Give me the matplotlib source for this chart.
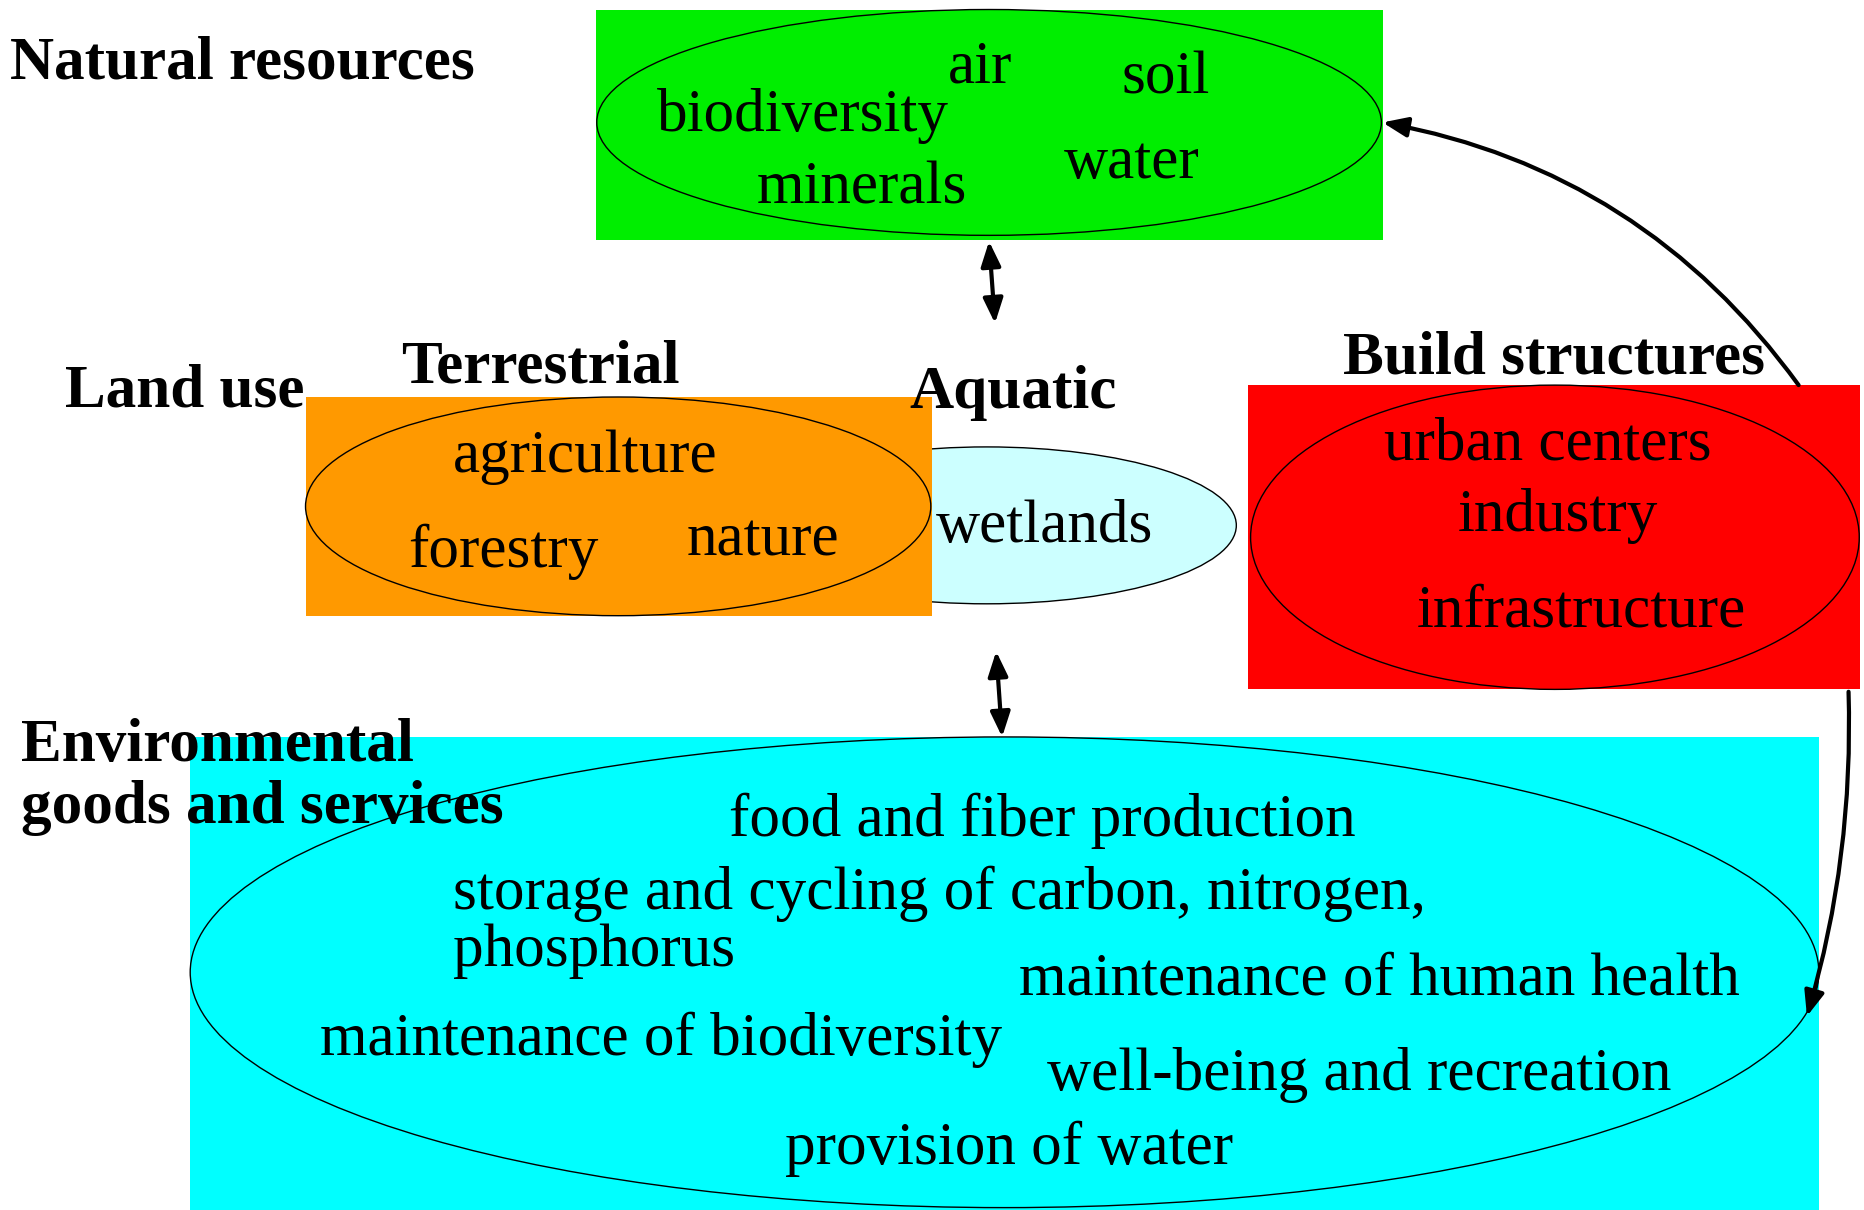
import matplotlib
matplotlib.use("Agg")
import matplotlib.pyplot as plt
from matplotlib.patches import Rectangle, Ellipse, FancyArrowPatch

# ---- content ----
group_titles = ["Natural resources", "Land use", "Terrestrial", "Aquatic",
                "Build structures", "Environmental", "goods and services"]
natural_items = ["air", "soil", "biodiversity", "minerals", "water"]
terrestrial_items = ["agriculture", "forestry", "nature"]
aquatic_items = ["wetlands"]
built_items = ["urban centers", "industry", "infrastructure"]
service_items = ["food and fiber production",
                 "storage and cycling of carbon, nitrogen,",
                 "phosphorus",
                 "maintenance of human health",
                 "maintenance of biodiversity",
                 "well-being and recreation",
                 "provision of water"]

# ---- layout (reference pixel coordinates, 1568 x 1018 canvas) ----
W, H = 1568, 1018
title_pos = [(8, 66), (55, 342), (337, 322), (765, 343), (1130, 314), (18, 640), (18, 692)]
natural_pos = [(797, 69), (943, 79), (553, 110), (637, 171), (895, 150)]
terrestrial_pos = [(381, 397), (343, 477), (578, 467)]
aquatic_pos = [(787, 456)]
built_pos = [(1164, 387), (1226, 447), (1192, 527)]
service_pos = [(613, 703), (381, 765), (381, 813), (857, 837), (269, 888), (881, 917), (660, 979)]

plt.rcParams['font.family'] = ['Liberation Serif', 'DejaVu Serif']

fig = plt.figure(figsize=(18.64, 12.10), dpi=100)
ax = fig.add_axes([0, 0, 1, 1])
ax.set_xlim(0, W)
ax.set_ylim(H, 0)
ax.axis('off')

FS = 44
FSB = 44

# Natural resources block
ax.add_patch(Rectangle((501, 8), 662, 194, facecolor='#00ee00', edgecolor='none', zorder=1))
ax.add_patch(Ellipse((832, 103), 660, 190, facecolor='none', edgecolor='black', lw=1.0, zorder=2))

# Aquatic ellipse (behind terrestrial box)
ax.add_patch(Ellipse((830, 442), 420, 132, facecolor='#ccffff', edgecolor='black', lw=1.0, zorder=1))
# Terrestrial block
ax.add_patch(Rectangle((257, 334), 527, 184, facecolor='#ff9900', edgecolor='none', zorder=2))
ax.add_patch(Ellipse((520, 426), 526, 184, facecolor='none', edgecolor='black', lw=1.0, zorder=3))

# Built structures block
ax.add_patch(Rectangle((1050, 324), 515, 256, facecolor='#ff0000', edgecolor='none', zorder=1))
ax.add_patch(Ellipse((1308, 452), 512, 256, facecolor='none', edgecolor='black', lw=1.0, zorder=2))

# Environmental goods block
ax.add_patch(Rectangle((160, 620), 1370, 398, facecolor='#00ffff', edgecolor='none', zorder=1))
ax.add_patch(Ellipse((845, 818), 1370, 396, facecolor='none', edgecolor='black', lw=1.0, zorder=2))

# Arrows
def arrow(a, b, style, rad=0.0, lw=3.0):
    p = FancyArrowPatch(a, b, arrowstyle=style, connectionstyle=f"arc3,rad={rad}",
                        mutation_scale=1, lw=lw, color='black', zorder=4,
                        shrinkA=0, shrinkB=0)
    ax.add_patch(p)

arrow((832, 203), (837, 272), "<|-|>,head_length=15,head_width=6")
arrow((838, 548), (843, 620), "<|-|>,head_length=15,head_width=6")
arrow((1513, 324), (1163, 103), "-|>,head_length=15,head_width=6", rad=0.2)
arrow((1555, 582), (1520, 855), "-|>,head_length=15,head_width=6", rad=-0.08)

# Texts
for t, (x, y) in zip(group_titles, title_pos):
    ax.text(x, y, t, fontsize=FSB, fontweight='bold', ha='left', va='baseline', zorder=5)
for items, poss in [(natural_items, natural_pos), (terrestrial_items, terrestrial_pos),
                    (aquatic_items, aquatic_pos), (built_items, built_pos),
                    (service_items, service_pos)]:
    for t, (x, y) in zip(items, poss):
        ax.text(x, y, t, fontsize=FS, ha='left', va='baseline', zorder=5)

fig.savefig("out.png", dpi=100)
